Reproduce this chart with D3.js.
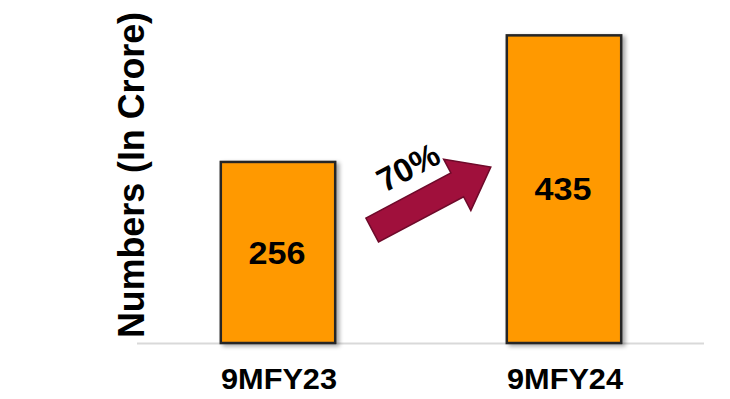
<!DOCTYPE html>
<html>
<head>
<meta charset="utf-8">
<script src="https://cdn.jsdelivr.net/npm/d3@7/dist/d3.min.js"></script>
<style>
  html, body { margin: 0; padding: 0; background: #fff; }
  svg { display: block; }
  text { font-family: Arial, "Liberation Sans", sans-serif; font-weight: bold; fill: #000; }
</style>
</head>
<body>
<svg id="chart" width="730" height="399"></svg>
<script>
const categories = ["9MFY23", "9MFY24"];
const values = [256, 435];
const growthLabel = "70%";
const yTitle = "Numbers (In Crore)";

const svg = d3.select("#chart");

const x = d3.scaleBand().domain(categories).range([135, 707]).paddingInner(0.6).paddingOuter(0.3);
const y = d3.scaleLinear().domain([0, 485]).range([343, 0]);

const defs = svg.append("defs");
const f = defs.append("filter").attr("id", "shadow").attr("x", "-20%").attr("y", "-20%").attr("width", "150%").attr("height", "150%");
f.append("feDropShadow").attr("dx", 3).attr("dy", 2).attr("stdDeviation", 2).attr("flood-color", "#000").attr("flood-opacity", 0.35);

// baseline
svg.append("line")
  .attr("x1", 137).attr("x2", 704)
  .attr("y1", y(0) + 0.5).attr("y2", y(0) + 0.5)
  .attr("stroke", "#d9d9d9").attr("stroke-width", 2);

// bars
svg.selectAll("rect.bar").data(values).join("rect")
  .attr("class", "bar")
  .attr("x", (d, i) => x(categories[i]))
  .attr("y", d => y(d))
  .attr("width", x.bandwidth())
  .attr("height", d => y(0) - y(d))
  .attr("fill", "#ff9900")
  .attr("stroke", "#262626")
  .attr("stroke-width", 2.5)
  .attr("filter", "url(#shadow)");

// value labels
svg.selectAll("text.val").data(values).join("text")
  .attr("class", "val")
  .attr("x", (d, i) => x(categories[i]) + x.bandwidth() / 2 - 1)
  .attr("y", d => (y(d) + y(0)) / 2)
  .attr("dy", "0.36em")
  .attr("text-anchor", "middle")
  .attr("font-size", 31)
  .attr("textLength", 57)
  .attr("lengthAdjust", "spacingAndGlyphs")
  .text(d => d);

// category labels
svg.selectAll("text.cat").data(categories).join("text")
  .attr("class", "cat")
  .attr("x", d => x(d) + x.bandwidth() / 2 + 1)
  .attr("y", 389)
  .attr("text-anchor", "middle")
  .attr("font-size", 29)
  .attr("textLength", 116)
  .attr("lengthAdjust", "spacingAndGlyphs")
  .text(d => d);

// y title
svg.append("text")
  .attr("transform", "translate(144,175) rotate(-90)")
  .attr("text-anchor", "middle")
  .attr("font-size", 37)
  .attr("textLength", 326)
  .attr("lengthAdjust", "spacingAndGlyphs")
  .text(yTitle);

// growth arrow
const ax0 = x(categories[0]) + x.bandwidth() + 37, ay0 = 230;
const ax1 = x(categories[1]) - 16, ay1 = 167;
const ang = Math.atan2(ay1 - ay0, ax1 - ax0) * 180 / Math.PI;
const len = Math.hypot(ax1 - ax0, ay1 - ay0);
const sw = 13.5, hw = 29, hl = 38;
const arrowPts = [[0, -sw], [len - hl, -sw], [len - hl, -hw], [len, 0], [len - hl, hw], [len - hl, sw], [0, sw]];
svg.append("path")
  .attr("transform", `translate(${ax0},${ay0}) rotate(${ang})`)
  .attr("d", d3.line()(arrowPts) + "Z")
  .attr("fill", "#a0103c")
  .attr("stroke", "#6e0a2a")
  .attr("stroke-width", 1.5);

svg.append("text")
  .attr("transform", `translate(408,167) rotate(${ang})`)
  .attr("text-anchor", "middle")
  .attr("dy", "0.36em")
  .attr("font-size", 33)
  .text(growthLabel);
</script>
</body>
</html>
